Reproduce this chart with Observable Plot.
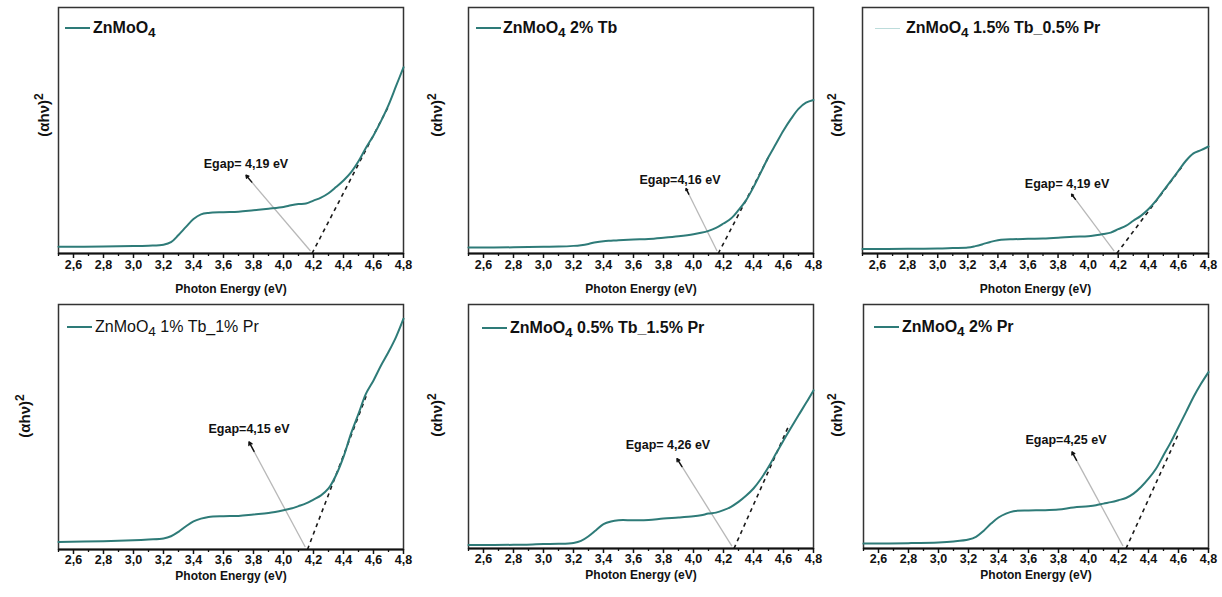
<!DOCTYPE html>
<html><head><meta charset="utf-8">
<script src="https://cdn.jsdelivr.net/npm/d3@7"></script>
<script src="https://cdn.jsdelivr.net/npm/@observablehq/plot@0.6"></script>
<style>
body{margin:0;background:#fff;}
#wrap{position:relative;width:1222px;height:597px;overflow:hidden;background:#fff;font-family:"Liberation Sans",Arial,sans-serif;}
.panel{position:absolute;}
.legline{position:absolute;height:2px;}
.legtext{position:absolute;font-size:16px;line-height:16px;white-space:nowrap;color:#111;}
.legtext sub{font-size:0.85em;vertical-align:-0.28em;line-height:0;}
.ylab{position:absolute;font-size:15px;line-height:15px;font-weight:bold;color:#111;white-space:nowrap;transform:translate(-50%,-50%) rotate(-90deg);}
.ylab sup{font-size:0.8em;vertical-align:0.45em;line-height:0;}
</style></head><body><div id="wrap"></div>
<script>
// ---------- data ----------
const energy = [2.5, 2.8, 3.0, 3.1, 3.2, 3.25, 3.3, 3.35, 3.4, 3.45, 3.5, 3.6, 3.7, 3.8, 3.9, 4.0, 4.05, 4.1, 4.15, 4.2, 4.25, 4.3, 4.35, 4.4, 4.45, 4.5, 4.55, 4.6, 4.65, 4.7, 4.75, 4.8];
const sampleNames = ["ZnMoO4", "ZnMoO4 2% Tb", "ZnMoO4 1.5% Tb_0.5% Pr", "ZnMoO4 1% Tb_1% Pr", "ZnMoO4 0.5% Tb_1.5% Pr", "ZnMoO4 2% Pr"];
const absPure   = [2.7, 2.8, 3.0, 3.2, 3.6, 4.6, 7.5, 10.8, 14.0, 15.9, 16.5, 16.8, 17.0, 17.6, 18.2, 18.9, 19.6, 20.1, 20.3, 21.5, 22.7, 24.5, 27.0, 29.7, 33.0, 37.5, 43.0, 48.0, 53.8, 60.3, 68.0, 75.7];
const absTb2    = [2.4, 2.5, 2.7, 2.8, 3.1, 3.4, 3.9, 4.6, 5.0, 5.2, 5.4, 5.7, 5.9, 6.4, 7.0, 7.8, 8.4, 9.2, 10.4, 12.2, 14.2, 17.6, 21.6, 27.0, 33.1, 39.2, 44.6, 50.0, 54.7, 58.8, 61.3, 62.4];
const absTb15Pr05 = [1.8, 1.9, 2.0, 2.2, 2.4, 3.0, 3.8, 4.7, 5.4, 5.7, 5.8, 6.0, 6.1, 6.4, 6.8, 7.0, 7.4, 7.9, 8.5, 9.9, 11.2, 13.3, 15.3, 18.0, 21.4, 25.5, 29.5, 33.6, 37.7, 40.7, 42.0, 43.5];
const absTb1Pr1 = [3.1, 3.4, 3.8, 4.1, 4.5, 5.4, 7.2, 9.5, 11.5, 12.6, 13.3, 13.6, 13.7, 14.3, 14.9, 16.0, 16.7, 17.7, 18.8, 20.4, 22.1, 24.9, 30.3, 37.8, 47.3, 55.4, 63.6, 69.0, 75.1, 80.6, 86.7, 94.2];
const absTb05Pr15 = [1.4, 1.5, 1.8, 1.9, 2.3, 3.1, 5.0, 7.5, 10.0, 11.1, 11.6, 11.6, 11.7, 12.3, 12.7, 13.2, 13.6, 14.3, 14.7, 15.7, 17.1, 19.1, 21.6, 24.6, 28.6, 33.4, 38.9, 44.3, 49.5, 54.6, 59.6, 64.8];
const absPr2    = [2.0, 2.2, 2.5, 2.9, 3.7, 4.8, 7.2, 10.2, 12.7, 14.3, 15.3, 15.6, 15.7, 16.0, 16.8, 17.3, 17.7, 18.4, 19.0, 19.8, 20.7, 22.5, 25.2, 28.6, 32.7, 38.2, 43.7, 49.8, 55.9, 62.1, 67.5, 72.3];
const seriesList = [absPure, absTb2, absTb15Pr05, absTb1Pr1, absTb05Pr15, absPr2];

const egapText  = ["Egap= 4,19 eV", "Egap=4,16 eV", "Egap= 4,19 eV", "Egap=4,15 eV", "Egap= 4,26 eV", "Egap=4,25 eV"];
const egapLabelX = [3.75, 3.91, 3.86, 3.77, 3.83, 3.85];
const egapLabelY = [36.5, 29.7, 28.2, 49.3, 42.3, 44.3];
const arrowTailX = [4.18, 4.157, 4.173, 4.145, 4.256, 4.23];
const arrowTailY = [1.0, 1.0, 1.0, 1.0, 1.0, 1.0];
const arrowHeadX = [3.75, 3.95, 3.89, 3.77, 3.89, 3.89];
const arrowHeadY = [31.8, 26.4, 24.1, 43.9, 36.8, 39.6];
const tangentX1 = [4.19, 4.165, 4.19, 4.16, 4.27, 4.25];
const tangentX2 = [4.7, 4.5, 4.62, 4.56, 4.64, 4.6];
const tangentY2 = [59.8, 39.2, 35, 64, 51, 47];

const majorTicks = [2.6, 2.8, 3.0, 3.2, 3.4, 3.6, 3.8, 4.0, 4.2, 4.4, 4.6, 4.8];
const minorTicks = [2.5, 2.7, 2.9, 3.1, 3.3, 3.5, 3.7, 3.9, 4.1, 4.3, 4.5, 4.7];
const yTitle = "(αhν)";
const yTitleExp = "2";
const xTitle = "Photon Energy (eV)";

// ---------- layout ----------
const layout = [
  {left: 58,  top: 7,   w: 345, h: 246, ylab: 15, ydy: -15, pad: 2, titleDy: 39},
  {left: 468, top: 7,   w: 345, h: 246, ylab: 32, ydy: -15, pad: 2, titleDy: 39},
  {left: 862, top: 7,   w: 346, h: 246, ylab: 26, ydy: -15, pad: 2, titleDy: 39},
  {left: 58,  top: 304, w: 345, h: 245, ylab: 34, ydy: -11, pad: 1, titleDy: 30},
  {left: 468, top: 304, w: 345, h: 244, ylab: 32, ydy: -11, pad: 1, titleDy: 30},
  {left: 863, top: 304, w: 345, h: 244, ylab: 27, ydy: -11, pad: 1, titleDy: 30}
];
const legendStyle = [
  {lx: 7, ly: 21, lw: 25, tx: 35, color: "#2e7b78", lh: 2, weight: "bold"},
  {lx: 8, ly: 21, lw: 25, tx: 35, color: "#2e7b78", lh: 2, weight: "bold"},
  {lx: 13, ly: 21, lw: 25, tx: 44, color: "#bcdcdb", lh: 1, weight: "bold"},
  {lx: 9, ly: 23, lw: 25, tx: 37, color: "#2e7b78", lh: 2, weight: "normal"},
  {lx: 14, ly: 24, lw: 25, tx: 42, color: "#2e7b78", lh: 2, weight: "bold"},
  {lx: 11, ly: 23, lw: 25, tx: 39, color: "#2e7b78", lh: 2, weight: "bold"}
];
const teal = "#2e7b78";
const fmt = d => d.toFixed(1).replace(".", ",");

const wrap = document.getElementById("wrap");
const ML = 58, MR = 7, MT = 7, MB = 47;

layout.forEach((L, i) => {
  const rows = energy.map((e, k) => ({e, v: seriesList[i][k]}));
  const head = {x: arrowHeadX[i], y: arrowHeadY[i]};
  const tail = {x: arrowTailX[i], y: arrowTailY[i]};
  const tip = {x1: head.x + (tail.x - head.x) * 0.09, y1: head.y + (tail.y - head.y) * 0.09, x2: head.x, y2: head.y};
  const plot = Plot.plot({
    width: ML + L.w + MR,
    height: MT + L.h + MB,
    marginLeft: ML, marginRight: MR, marginTop: MT, marginBottom: MB,
    x: {domain: [2.5, 4.8]},
    y: {domain: [0, 100], axis: null},
    style: {fontFamily: "'Liberation Sans', Arial, sans-serif", fontWeight: "bold", background: "transparent", color: "#111", overflow: "visible"},
    marks: [
      Plot.frame({stroke: "#333", strokeWidth: 1.5}),
      Plot.link([{x1: tail.x, y1: tail.y, x2: head.x, y2: head.y}], {x1: "x1", y1: "y1", x2: "x2", y2: "y2", stroke: "#b8b8b8", strokeWidth: 1.3}),
      Plot.arrow([tip], {x1: "x1", y1: "y1", x2: "x2", y2: "y2", stroke: "#111", strokeWidth: 1.4, headLength: 5}),
      Plot.link([{x1: tangentX1[i], y1: 0, x2: tangentX2[i], y2: tangentY2[i]}], {x1: "x1", y1: "y1", x2: "x2", y2: "y2", stroke: "#1a1a1a", strokeWidth: 1.6, strokeDasharray: "4,4"}),
      Plot.line(rows, {x: "e", y: "v", curve: "catmull-rom", stroke: teal, strokeWidth: 2}),
      Plot.text([egapText[i]], {x: egapLabelX[i], y: egapLabelY[i], text: d => d, fontSize: 12.5, fill: "#111"}),
      Plot.ruleY([0], {stroke: "#111", strokeWidth: 2}),
      Plot.axisX({ticks: majorTicks, tickSize: 5, tickPadding: L.pad, tickFormat: fmt, fontSize: 12.5, label: null, strokeWidth: 1.5}),
      Plot.axisX({ticks: minorTicks, tickSize: 3, tickFormat: () => "", label: null, strokeWidth: 1.3}),
      Plot.text([xTitle], {frameAnchor: "bottom", dy: L.titleDy, text: d => d, fontSize: 12, fill: "#111"})
    ]
  });
  plot.classList.add("panel");
  plot.style.left = (L.left - ML) + "px";
  plot.style.top = (L.top - MT) + "px";
  wrap.appendChild(plot);

  // y-axis title (rotated, with a real superscript)
  const yl = document.createElement("div");
  yl.className = "ylab";
  yl.style.left = (L.left - L.ylab) + "px";
  yl.style.top = (L.top + L.h / 2 + L.ydy) + "px";
  yl.innerHTML = yTitle + "<sup>" + yTitleExp + "</sup>";
  wrap.appendChild(yl);

  // legend (inside frame, top-left)
  const S = legendStyle[i];
  const line = document.createElement("div");
  line.className = "legline";
  line.style.left = (L.left + S.lx) + "px";
  line.style.top = (L.top + S.ly - S.lh / 2) + "px";
  line.style.width = S.lw + "px";
  line.style.height = S.lh + "px";
  line.style.background = S.color;
  wrap.appendChild(line);
  const txt = document.createElement("div");
  txt.className = "legtext";
  txt.style.left = (L.left + S.tx) + "px";
  txt.style.top = (L.top + S.ly - 8) + "px";
  txt.style.fontWeight = S.weight;
  const name = sampleNames[i];
  txt.innerHTML = "ZnMoO<sub>4</sub>" + name.slice(6);
  wrap.appendChild(txt);
});
</script>
</body></html>
